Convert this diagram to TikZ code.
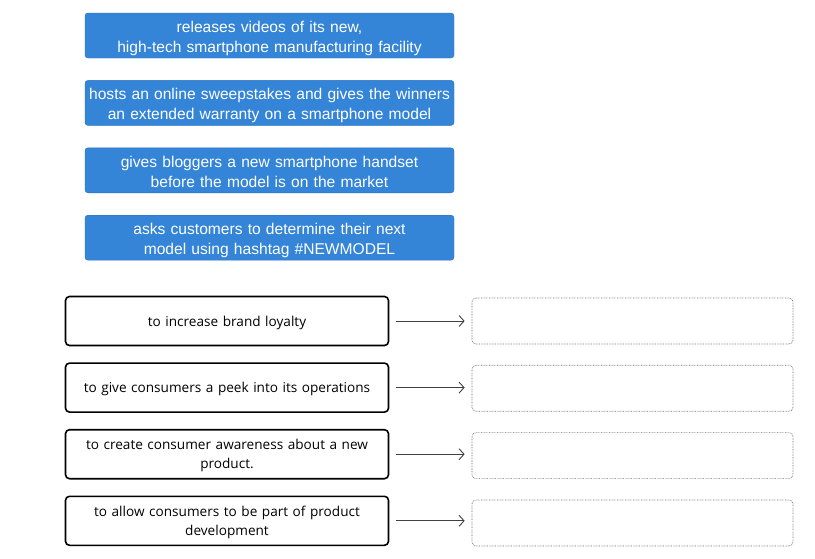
\documentclass[tikz,border=0pt]{standalone}
\usepackage{fontspec}
\setmainfont{Open Sans}
\newfontfamily\arialfont{Liberation Sans}
\usetikzlibrary{positioning, arrows.meta}
\definecolor{choiceblue}{RGB}{52,132,216}
\definecolor{choiceedge}{RGB}{42,112,192}
\definecolor{slotgray}{RGB}{110,110,110}

\begin{document}
\begin{tikzpicture}[x=1pt, y=-1pt]

	% Define styles
	\tikzset{
		choice/.style={
			rectangle, draw=choiceedge, fill=choiceblue, rounded corners=3pt,
			minimum width=369pt, minimum height=45pt, inner sep=0pt,
			text width=367pt, align=center, text=white, text depth=17.5pt,
			font=\arialfont\fontsize{15.6}{20}\selectfont
		},
		goal/.style={
			rectangle, draw=black, line width=1.6pt, rounded corners=4pt,
			minimum width=323pt, minimum height=49pt, inner sep=0pt,
			text width=310pt, align=center, text depth=19pt,
			font=\fontsize{13.6}{19}\selectfont
		},
		oneline/.style={goal, text depth=-1pt},
		slot/.style={
			rectangle, draw=slotgray, line width=0.7pt,
			dash pattern=on 0.7pt off 0.9pt, rounded corners=4pt,
			minimum width=321pt, minimum height=46pt
		},
		arrow/.style={draw=black!75, line width=0.9pt,
			-{Straight Barb[length=5pt, width=11pt]},
			shorten <=7pt, shorten >=7pt}
	}

	\useasboundingbox (0,0) rectangle (815,558);

	% Answer choices (blue)
	\node (videos)   [choice] at (269.5,35.5) {releases videos of its new,\\high-tech smartphone manufacturing facility};
	\node (sweeps)   [choice, below=22pt of videos] {hosts an online sweepstakes and gives the winners\\an extended warranty on a smartphone model};
	\node (bloggers) [choice, below=22pt of sweeps] {gives bloggers a new smartphone handset\\before the model is on the market};
	\node (hashtag)  [choice, below=22pt of bloggers] {asks customers to determine their next\\model using hashtag \#NEWMODEL};

	% Goals
	\node (loyalty)   [oneline] at (227,321) {to increase brand loyalty};
	\node (peek)      [oneline, below=16pt of loyalty] {to give consumers a peek into its operations};
	\node (awareness) [goal, below=16pt of peek] {to create consumer awareness about a new\\product.};
	\node (develop)   [goal, below=16pt of awareness] {to allow consumers to be part of product\\development};

	% Empty drop slots
	\node (slotA) [slot] at (632.5,321) {};
	\node (slotB) [slot, below=20.6pt of slotA] {};
	\node (slotC) [slot, below=20.6pt of slotB] {};
	\node (slotD) [slot, below=20.6pt of slotC] {};

	% Arrows
	\draw[arrow] (loyalty.east) -- (loyalty.east -| slotA.west);
	\draw[arrow] (peek.east) -- (peek.east -| slotB.west);
	\draw[arrow] (awareness.east) -- (awareness.east -| slotC.west);
	\draw[arrow] (develop.east) -- (develop.east -| slotD.west);

\end{tikzpicture}
\end{document}
